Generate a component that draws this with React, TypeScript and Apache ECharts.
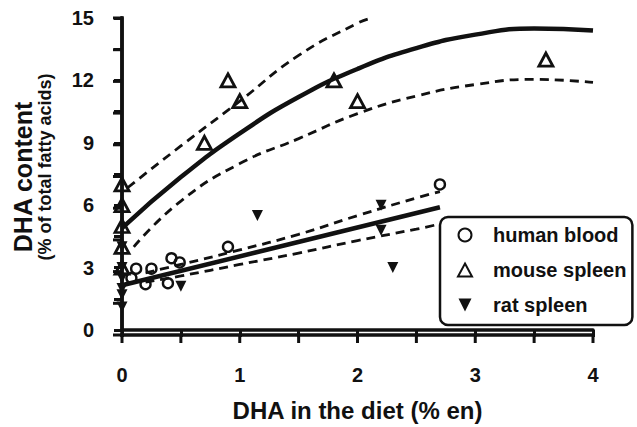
import React, { useEffect, useRef } from "react";
import * as echarts from "echarts";

// Axis ranges, tick labels and tick positions
const xMin = 0;
const xMax = 4;
const yMin = 0;
const yMax = 15;
const xTickLabels = ["0", "1", "2", "3", "4"];
const yTickLabels = ["0", "3", "6", "9", "12", "15"];
const xTickValues = [0, 0.5, 1, 1.5, 2, 2.5, 3, 3.5, 4];
const yTickValues = [0, 1.5, 3, 4.5, 6, 7.5, 9, 10.5, 12, 13.5, 15];

// Scatter data: [DHA in diet (% en), DHA content (% of total fatty acids)]
const humanBlood: [number, number][] = [
  [0.08, 2.5], [0.12, 2.95], [0.2, 2.2], [0.25, 2.95], [0.39, 2.25],
  [0.42, 3.45], [0.49, 3.25], [0.9, 4.0], [2.7, 7.0],
];
const mouseSpleen: [number, number][] = [
  [0, 7], [0, 6], [0, 5], [0, 4], [0, 3],
  [0.7, 9], [0.9, 12], [1.0, 11], [1.8, 12], [2.0, 11], [3.6, 13],
];
const ratSpleen: [number, number][] = [
  [0, 4], [0, 3], [0, 2.5], [0, 2], [0, 1.7], [0, 1.1],
  [0.5, 2.1], [1.15, 5.5], [2.2, 6.0], [2.2, 4.8], [2.3, 3.0],
];

// Fitted curves
const mouseFitX = [0, 0.5, 1, 1.5, 2, 2.5, 3, 3.5, 4];
const mouseFitY = [4.9, 7.35, 9.45, 11.2, 12.55, 13.55, 14.2, 14.5, 14.4];
const mouseUpperX = [0.05, 0.5, 1, 1.5, 2, 2.12];
const mouseUpperY = [6.85, 8.85, 11.0, 13.2, 14.75, 15.0];
const mouseLowerX = [0.1, 0.5, 1, 1.5, 2, 2.5, 3, 3.5, 4];
const mouseLowerY = [4.0, 6.2, 8.0, 9.2, 10.4, 11.25, 11.8, 12.05, 11.9];

const humanFitX = [0, 2.7];
const humanFitY = [2.15, 5.9];
const humanUpperX = [0.2, 0.5, 1, 1.5, 2, 2.5, 2.7];
const humanUpperY = [2.75, 3.15, 3.85, 4.6, 5.5, 6.35, 6.65];
const humanLowerX = [0.2, 0.5, 1, 1.5, 2, 2.5, 2.7];
const humanLowerY = [2.3, 2.6, 3.15, 3.7, 4.3, 4.85, 5.1];

const zip = (xs: number[], ys: number[]) => xs.map((x, i) => [x, ys[i]]);

const INK = "#111111";
const FONT = "'Liberation Sans', Arial, sans-serif";

// Plot-area layout
const G_LEFT = 122;
const G_TOP = 18;
const G_W = 471;
const G_H = 317;
const AXIS_W = 3.5;
const TICK_W = 3;

const solid = (name: string, data: number[][]) => ({
  name,
  type: "line",
  data,
  smooth: true,
  showSymbol: false,
  symbol: "none",
  silent: true,
  z: 3,
  lineStyle: { color: INK, width: 4.5, type: "solid" },
});
const dashed = (name: string, data: number[][]) => ({
  name,
  type: "line",
  data,
  smooth: true,
  showSymbol: false,
  symbol: "none",
  silent: true,
  z: 3,
  lineStyle: { color: INK, width: 2.8, type: [9, 6] },
});

// Axis frame (left and bottom) with outward ticks, laid out on the plot area
const xPos = (v: number) => G_LEFT + ((v - xMin) / (xMax - xMin)) * G_W;
const yPos = (v: number) => G_TOP + G_H - ((v - yMin) / (yMax - yMin)) * G_H;
const axisGraphics: any[] = [
  {
    type: "rect",
    z: 1,
    shape: { x: G_LEFT - AXIS_W / 2, y: G_TOP + G_H - AXIS_W / 2, width: G_W + AXIS_W, height: AXIS_W },
    style: { fill: INK },
  },
  {
    type: "rect",
    z: 1,
    shape: { x: G_LEFT - AXIS_W / 2, y: G_TOP - AXIS_W / 2, width: AXIS_W, height: G_H + AXIS_W },
    style: { fill: INK },
  },
  ...xTickValues.map((v) => ({
    type: "rect",
    z: 1,
    shape: { x: xPos(v) - TICK_W / 2, y: G_TOP + G_H, width: TICK_W, height: 8 },
    style: { fill: INK },
  })),
  ...yTickValues.map((v) => ({
    type: "rect",
    z: 1,
    shape: { x: G_LEFT - 9, y: yPos(v) - TICK_W / 2, width: 9, height: TICK_W },
    style: { fill: INK },
  })),
];

export default function App() {
  const ref = useRef<HTMLDivElement>(null);
  useEffect(() => {
    if (!ref.current) return;
    const chart = echarts.init(ref.current, null, { renderer: "svg" });
    chart.setOption({
      animation: false,
      backgroundColor: "#fff",
      grid: { left: G_LEFT, top: G_TOP, width: G_W, height: G_H },
      xAxis: {
        type: "value",
        min: xMin,
        max: xMax,
        interval: 0.5,
        name: "DHA in the diet (% en)",
        nameLocation: "middle",
        nameGap: 68,
        nameTextStyle: { fontFamily: FONT, fontWeight: "bold", fontSize: 24, color: INK },
        axisLine: { show: true, onZero: false, lineStyle: { color: INK, width: AXIS_W } },
        axisTick: { show: true, length: 7, lineStyle: { color: INK, width: TICK_W } },
        splitLine: { show: false },
        axisLabel: {
          margin: 35,
          fontFamily: FONT,
          fontWeight: "bold",
          fontSize: 20,
          color: INK,
          formatter: (v: number) => (xTickLabels.includes(String(v)) ? String(v) : ""),
        },
      },
      yAxis: {
        type: "value",
        min: yMin,
        max: yMax,
        interval: 1.5,
        axisLine: { show: true, onZero: false, lineStyle: { color: INK, width: AXIS_W } },
        axisTick: { show: true, length: 8, lineStyle: { color: INK, width: TICK_W } },
        splitLine: { show: false },
        axisLabel: {
          margin: 28,
          fontFamily: FONT,
          fontWeight: "bold",
          fontSize: 20,
          color: INK,
          formatter: (v: number) => (yTickLabels.includes(String(v)) ? String(v) : ""),
        },
      },
      legend: {
        data: ["human blood", "mouse spleen", "rat spleen"],
        orient: "vertical",
        left: 440,
        top: 217,
        itemWidth: 14,
        itemHeight: 13,
        itemGap: 15,
        padding: [8, 6, 10, 17],
        borderColor: INK,
        borderWidth: 2.5,
        borderRadius: 8,
        backgroundColor: "#fff",
        textStyle: {
          fontFamily: FONT,
          fontWeight: "bold",
          fontSize: 20,
          color: INK,
          lineHeight: 20,
          padding: [0, 0, 0, 16],
        },
      },
      graphic: [
        {
          type: "text",
          x: 23,
          y: 177,
          rotation: Math.PI / 2,
          style: {
            text: "DHA content",
            fontFamily: FONT,
            fontWeight: "bold",
            fontSize: 25,
            fill: INK,
            align: "center",
            verticalAlign: "middle",
          },
        },
        {
          type: "text",
          x: 45,
          y: 167,
          rotation: Math.PI / 2,
          style: {
            text: "(% of total fatty acids)",
            fontFamily: FONT,
            fontWeight: "bold",
            fontSize: 18,
            fill: INK,
            align: "center",
            verticalAlign: "middle",
          },
        },
        ...axisGraphics,
      ],
      series: [
        solid("mouse fit", zip(mouseFitX, mouseFitY)),
        dashed("mouse upper", zip(mouseUpperX, mouseUpperY)),
        dashed("mouse lower", zip(mouseLowerX, mouseLowerY)),
        solid("human fit", zip(humanFitX, humanFitY)),
        dashed("human upper", zip(humanUpperX, humanUpperY)),
        dashed("human lower", zip(humanLowerX, humanLowerY)),
        {
          name: "human blood",
          type: "scatter",
          data: humanBlood,
          symbol: "circle",
          symbolSize: 10,
          z: 5,
          itemStyle: { color: "rgba(255,255,255,0)", borderColor: INK, borderWidth: 2.4, opacity: 1 },
        },
        {
          name: "mouse spleen",
          type: "scatter",
          data: mouseSpleen,
          symbol: "triangle",
          symbolSize: [14, 13],
          z: 5,
          itemStyle: { color: "rgba(255,255,255,0)", borderColor: INK, borderWidth: 2.8, opacity: 1 },
        },
        {
          name: "rat spleen",
          type: "scatter",
          data: ratSpleen,
          symbol: "path://M0,0L10,0L5,10Z",
          symbolSize: [11, 11],
          z: 5,
          itemStyle: { color: INK, borderWidth: 0, opacity: 1 },
        },
      ],
    });
    return () => chart.dispose();
  }, []);
  return (
    <div
      ref={ref}
      style={{ position: "fixed", left: 0, top: 0, width: 637, height: 427, background: "#fff" }}
    />
  );
}
